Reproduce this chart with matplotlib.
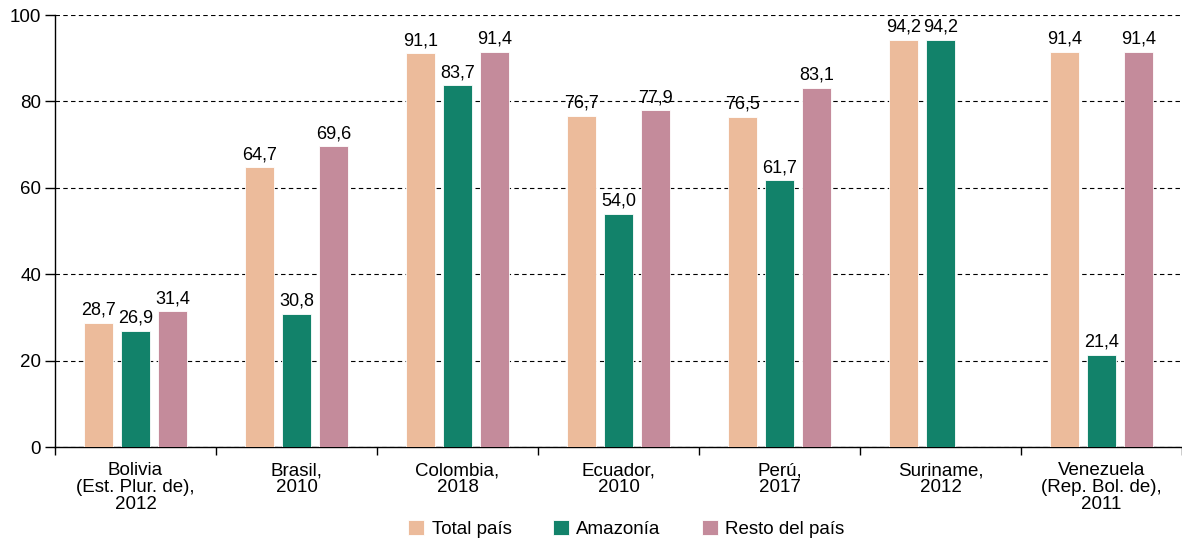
import matplotlib.pyplot as plt
import numpy as np

plt.rcParams['font.family'] = ['Liberation Sans', 'DejaVu Sans']

paises = ['Bolivia\n(Est. Plur. de),\n2012', 'Brasil,\n2010', 'Colombia,\n2018',
          'Ecuador,\n2010', 'Perú,\n2017', 'Suriname,\n2012',
          'Venezuela\n(Rep. Bol. de),\n2011']
total_pais = [28.7, 64.7, 91.1, 76.7, 76.5, 94.2, 91.4]
amazonia = [26.9, 30.8, 83.7, 54.0, 61.7, 94.2, 21.4]
resto_pais = [31.4, 69.6, 91.4, 77.9, 83.1, np.nan, 91.4]

series = [
    ('Total país', total_pais, '#ecbb9b'),
    ('Amazonía', amazonia, '#12826a'),
    ('Resto del país', resto_pais, '#c48b9b'),
]

fig = plt.figure(figsize=(11.82, 5.40), dpi=100)
ax = fig.add_axes([55 / 1182, 93 / 540, 1127 / 1182, 432 / 540])

x = np.arange(len(paises))
ancho = 0.176
paso = 0.23

for i, (nombre, vals, color) in enumerate(series):
    pos = x + (i - 1) * paso
    ax.bar(pos, vals, width=ancho, color=color, label=nombre,
           edgecolor='white', linewidth=0.6, zorder=3)
    for xb, v in zip(pos, vals):
        if np.isnan(v):
            continue
        ax.annotate(f'{v:.1f}'.replace('.', ','), (xb, v), xytext=(0, 3),
                    textcoords='offset points', ha='center', va='bottom',
                    fontsize=13)

ax.set_ylim(0, 100)
ax.set_xlim(-0.5, 6.444)
ax.set_yticks(range(0, 101, 20))
ax.yaxis.grid(True, color='black', linestyle=(0, (4, 3)), linewidth=0.8)
ax.set_axisbelow(True)

# las marcas del eje x van entre países, las etiquetas en el centro
ax.set_xticks(np.arange(-0.5, 7, 1))
ax.set_xticklabels([])
ax.set_xticks(x, minor=True)
ax.set_xticklabels(paises, minor=True, fontsize=13.5, linespacing=0.98)
ax.tick_params(axis='x', which='minor', length=0, pad=11)
ax.tick_params(axis='x', which='major', length=6, width=1)
ax.tick_params(axis='y', length=7, width=1, labelsize=13.5, pad=3)

for s in ['top', 'right']:
    ax.spines[s].set_visible(False)
ax.spines['left'].set_linewidth(1)
ax.spines['bottom'].set_linewidth(1)

fig.legend(loc='lower center', bbox_to_anchor=(0.530, -0.027), ncol=3,
           frameon=False, fontsize=13.5, handlelength=0.85, handleheight=0.85,
           handletextpad=0.4, columnspacing=2.2)

fig.savefig('out.png', dpi=100)
